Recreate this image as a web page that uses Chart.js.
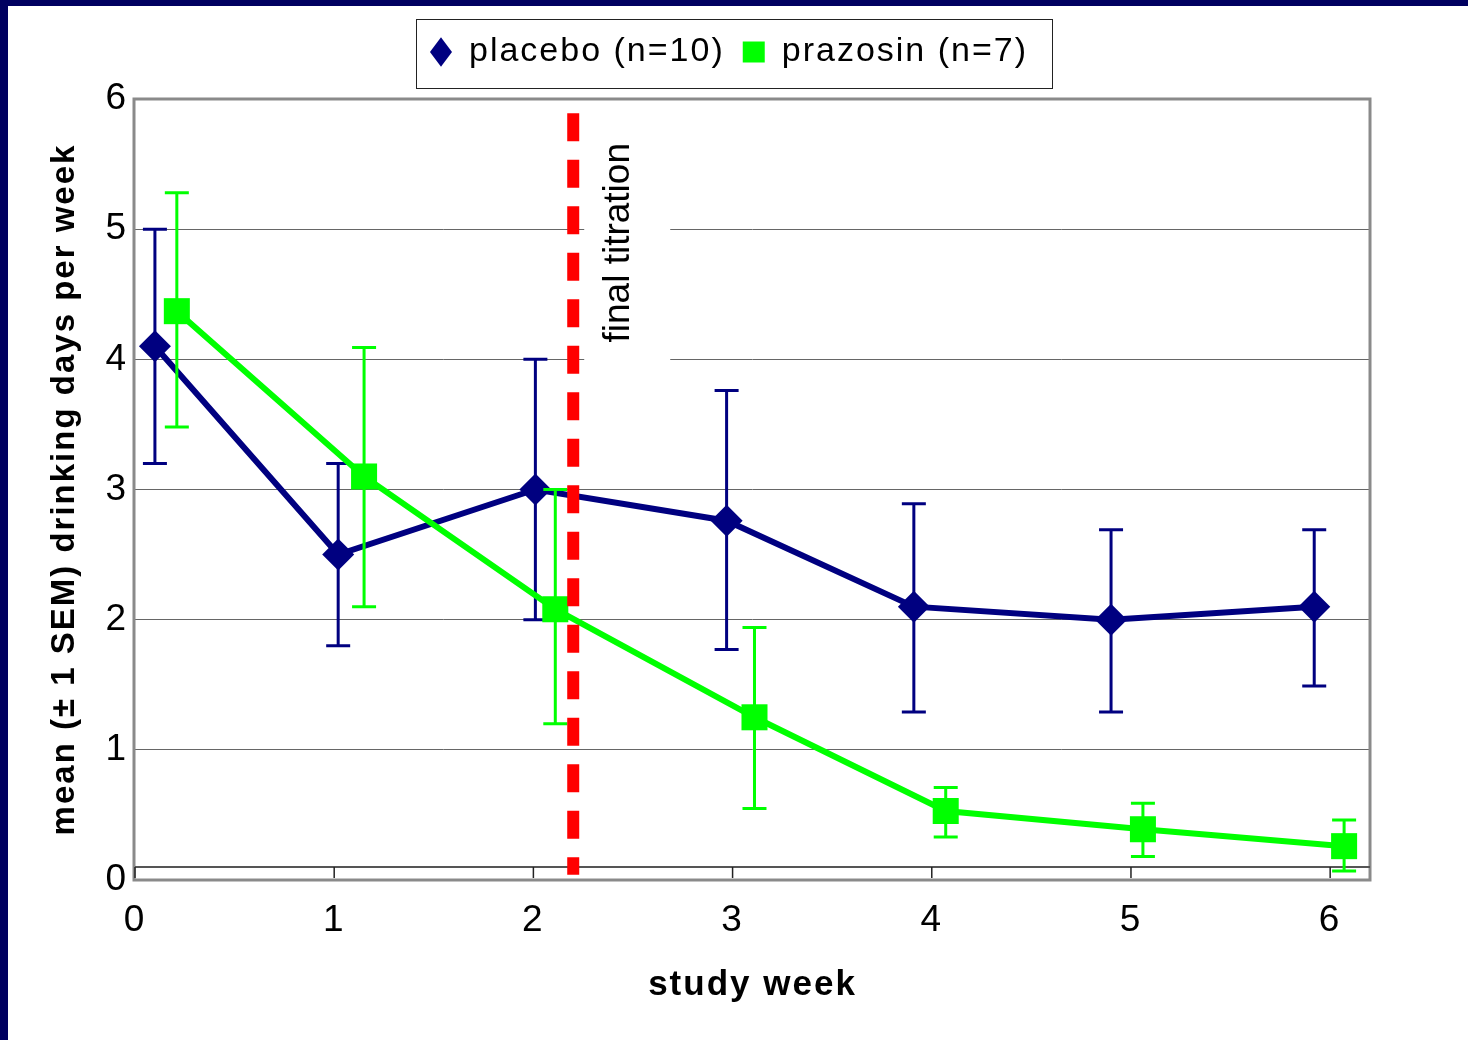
<!DOCTYPE html>
<html>
<head>
<meta charset="utf-8">
<script src="https://cdn.jsdelivr.net/npm/chart.js@4.4.1/dist/chart.umd.min.js"></script>
<style>
  html, body { margin: 0; padding: 0; background: #000060; }
  #wrap { position: absolute; left: 8px; top: 6px; width: 1460px; height: 1034px; background: #fff; }
</style>
</head>
<body>
<div id="wrap"><canvas id="myChart0" width="1460" height="1034"></canvas></div>
<script>
// values
var placebo_week = [0.1, 1.02, 2.01, 2.97, 3.91, 4.9, 5.92];
var placebo_mean = [4.1, 2.5, 3.0, 2.76, 2.1, 2.0, 2.1];
var placebo_hi   = [5.0, 3.2, 4.0, 3.76, 2.89, 2.69, 2.69];
var placebo_lo   = [3.2, 1.8, 2.0, 1.77, 1.29, 1.29, 1.49];

var prazosin_week = [0.21, 1.15, 2.11, 3.11, 4.07, 5.06, 6.07];
var prazosin_mean = [4.37, 3.1, 2.08, 1.25, 0.53, 0.39, 0.26];
var prazosin_hi   = [5.28, 4.09, 3.0, 1.94, 0.71, 0.59, 0.46];
var prazosin_lo   = [3.48, 2.1, 1.2, 0.55, 0.33, 0.18, 0.07];

var titration_week = 2.2;
var titration_top = 5.89;
var titration_bottom = 0.04;
var titration_label = "final titration";

var x_ticks = [0, 1, 2, 3, 4, 5, 6];
var y_ticks = [0, 1, 2, 3, 4, 5, 6];
var x_axis_cross = 0.1;

function points(xs, ys) {
    var out = [];
    for (var i in xs) {
        out.push({x: xs[i], y: ys[i]});
    }
    return out;
}

Chart.defaults.font.family = "'Liberation Sans', Arial, sans-serif";
Chart.defaults.color = "#000";

var spacing = {
    id: 'spacing',
    beforeLayout: function(chart) { chart.ctx.letterSpacing = '2px'; },
    beforeDraw: function(chart) { chart.ctx.letterSpacing = '2px'; }
};

// plot frame, axis line crossing at 0.1, and the note box
var frame = {
    id: 'frame',
    beforeDatasetsDraw: function(chart) {
        var ctx = chart.ctx, a = chart.chartArea;
        var xs = chart.scales.x, ys = chart.scales.y;
        ctx.save();
        ctx.strokeStyle = '#8a8a8a';
        ctx.lineWidth = 3;
        ctx.strokeRect(a.left - 1, a.top, a.right - a.left + 1, a.bottom - a.top);

        var yc = ys.getPixelForValue(x_axis_cross);
        ctx.strokeStyle = '#555';
        ctx.lineWidth = 2;
        ctx.beginPath();
        ctx.moveTo(a.left, yc);
        ctx.lineTo(a.right, yc);
        ctx.stroke();
        ctx.strokeStyle = '#222';
        ctx.lineWidth = 1.5;
        x_ticks.forEach(function(v) {
            var px = xs.getPixelForValue(v);
            ctx.beginPath();
            ctx.moveTo(px, yc);
            ctx.lineTo(px, yc + 11);
            ctx.stroke();
        });

        // note: white box then rotated text
        var bx = xs.getPixelForValue(titration_week) + 56;
        var ty = a.top + 44;
        ctx.fillStyle = '#fff';
        ctx.fillRect(bx - 45, ty - 23, 86, 246);
        ctx.translate(bx, ty);
        ctx.rotate(-Math.PI / 2);
        ctx.letterSpacing = '0px';
        ctx.font = "37px 'Liberation Sans', Arial, sans-serif";
        ctx.fillStyle = '#000';
        ctx.textAlign = 'right';
        ctx.textBaseline = 'alphabetic';
        ctx.fillText(titration_label, 0, 0);
        ctx.restore();
    },
    afterDatasetDraw: function(chart, args) {
        var ds = chart.data.datasets[args.index];
        if (!ds.errHigh) return;
        var ctx = chart.ctx, xs = chart.scales.x, ys = chart.scales.y;
        ctx.save();
        ctx.strokeStyle = ds.borderColor;
        ctx.lineWidth = 3;
        for (var i = 0; i < ds.data.length; i++) {
            var px = xs.getPixelForValue(ds.data[i].x);
            var ph = ys.getPixelForValue(ds.errHigh[i]);
            var pl = ys.getPixelForValue(ds.errLow[i]);
            ctx.beginPath();
            ctx.moveTo(px, ph); ctx.lineTo(px, pl);
            ctx.moveTo(px - 12, ph); ctx.lineTo(px + 12, ph);
            ctx.moveTo(px - 12, pl); ctx.lineTo(px + 12, pl);
            ctx.stroke();
        }
        ctx.restore();
    },
    afterDraw: function(chart) {
        var hb = chart.legend.legendHitBoxes;
        if (!hb || !hb.length) return;
        var ctx = chart.ctx;
        var last = hb[hb.length - 1];
        var l = hb[0].left - 14, r = last.left + last.width + 24;
        var cy = hb[0].top + hb[0].height / 2;
        ctx.save();
        ctx.strokeStyle = '#222';
        ctx.lineWidth = 1;
        ctx.strokeRect(Math.round(l) + 0.5, Math.round(cy - 33) + 0.5, Math.round(r - l), 69);
        ctx.restore();
    }
};

var chartdata = {
    datasets: [
        {
            label: "placebo (n=10)",
            data: points(placebo_week, placebo_mean),
            errHigh: placebo_hi,
            errLow: placebo_lo,
            borderColor: "#000080",
            backgroundColor: "#000080",
            borderWidth: 6,
            pointStyle: 'rectRot',
            pointRadius: 16,
            pointHoverRadius: 16,
            pointBackgroundColor: "#000080",
            pointBorderColor: "#000080",
            pointBorderWidth: 0,
            order: 3
        },
        {
            label: "prazosin (n=7)",
            data: points(prazosin_week, prazosin_mean),
            errHigh: prazosin_hi,
            errLow: prazosin_lo,
            borderColor: "#00ff00",
            backgroundColor: "#00ff00",
            borderWidth: 6,
            pointStyle: 'rect',
            pointRadius: 18.4,
            pointHoverRadius: 18.4,
            pointBackgroundColor: "#00ff00",
            pointBorderColor: "#00ff00",
            pointBorderWidth: 0,
            order: 2
        },
        {
            label: titration_label,
            data: [{x: titration_week, y: titration_top}, {x: titration_week, y: titration_bottom}],
            borderColor: "#ff0000",
            borderWidth: 12,
            borderDash: [28, 18.5],
            pointRadius: 0,
            order: 1
        }
    ]
};

var ctx = document.getElementById('myChart0');

var LineGraph = new Chart(ctx, {
    type: 'line',
    data: chartdata,
    plugins: [spacing, frame],
    options: {
        responsive: false,
        animation: false,
        events: [],
        layout: { padding: { top: 11, right: 98, left: 80, bottom: 0 } },
        plugins: {
            tooltip: { enabled: false },
            legend: {
                position: 'top',
                labels: {
                    usePointStyle: true,
                    pointStyleWidth: 22,
                    boxHeight: 21,
                    padding: 18,
                    color: '#000',
                    font: { size: 34 },
                    filter: function(item) { return item.datasetIndex < 2; },
                    sort: function(a, b) { return a.datasetIndex - b.datasetIndex; }
                }
            }
        },
        scales: {
            x: {
                type: 'linear',
                min: 0,
                max: 6.2,
                afterBuildTicks: function(s) { s.ticks = x_ticks.map(function(v) { return {value: v}; }); },
                afterFit: function(s) { s.height = 160; },
                grid: { display: false, drawTicks: false },
                border: { display: false },
                ticks: { font: { size: 37 }, color: '#000', padding: 19, maxRotation: 0, autoSkip: false },
                title: { display: true, text: 'study week', color: '#000', font: { size: 35, weight: 'bold' }, padding: { top: 0, bottom: 34 } }
            },
            top_space: {
                type: 'linear',
                position: 'top',
                grid: { display: false },
                border: { display: false },
                ticks: { display: false },
                afterFit: function(s) { s.height = 20; }
            },
            y: {
                min: 0,
                max: 6,
                afterBuildTicks: function(s) { s.ticks = y_ticks.map(function(v) { return {value: v}; }); },
                afterFit: function(s) { s.width = 47; },
                grid: { color: '#666', lineWidth: 1, drawTicks: false },
                border: { display: false },
                ticks: { font: { size: 37 }, color: '#000', padding: 7 },
                title: { display: true, text: 'mean (± 1 SEM) drinking days per week', color: '#000', font: { size: 33, weight: 'bold' }, padding: { top: -43, bottom: 0 } }
            }
        }
    }
});
</script>
</body>
</html>
